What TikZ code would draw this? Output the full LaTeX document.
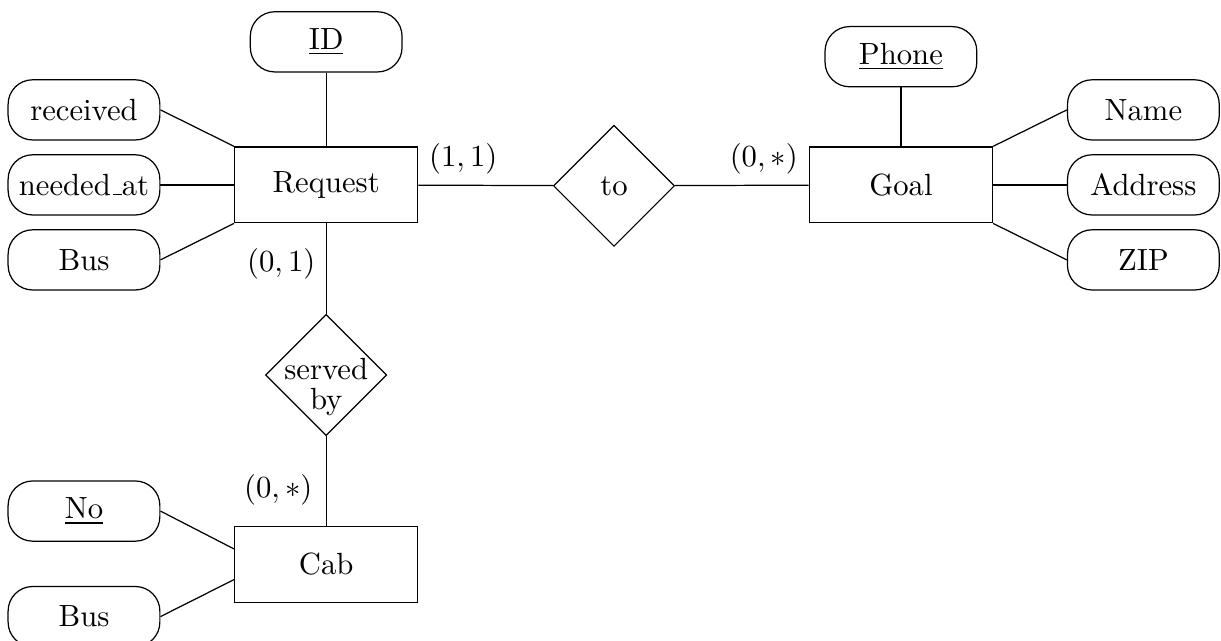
\documentclass[tikz,border=0pt]{standalone}
\usetikzlibrary{shapes.geometric}
\newcommand{\lowbar}{\kern.06em\vbox{\hrule width.3em}}
\begin{document}
\begin{tikzpicture}[entity/.style={draw,minimum width=2.1cm,minimum height=0.87cm},
		attr/.style={draw,rounded corners=8pt,minimum width=1.74cm,minimum height=0.69cm,inner sep=1pt},
		rel/.style={draw,diamond,aspect=1,minimum size=1.39cm,inner sep=0pt}]
				\useasboundingbox (0,0) rectangle (14,-7.34);
				% entities and relationships
				\node[entity] (req) at (3.74,-2.12) {Request};
				\node[entity] (goal) at (10.33,-2.12) {Goal};
				\node[entity] (cab) at (3.74,-6.47) {Cab};
				\node[rel] (to) at (7.04,-2.13) {to};
				\node[rel,inner sep=-5pt] (serv) at (3.74,-4.30) {\raisebox{-4pt}[\height][\depth]{\begin{tabular}{@{}c@{}}served\\[-2pt]by\end{tabular}}};
				% attributes
				\node[attr] (id) at (3.74,-0.48) {\underline{ID}};
				\node[attr] (recv) at (0.963,-1.26) {received};
				\node[attr] (need) at (0.963,-2.12) {needed\lowbar at};
				\node[attr] (rbus) at (0.963,-2.98) {Bus};
				\node[attr] (phone) at (10.33,-0.65) {\underline{Phone}};
				\node[attr] (name) at (13.11,-1.26) {Name};
				\node[attr] (addr) at (13.11,-2.12) {Address};
				\node[attr] (zip) at (13.11,-2.98) {ZIP};
				\node[attr] (no) at (0.963,-5.86) {\underline{No}};
				\node[attr] (cbus) at (0.963,-7.07) {Bus};
				\draw (id) -- (req);
				\draw (recv.east) -- (req.north west);
				\draw (need) -- (req);
				\draw (rbus.east) -- (req.south west);
				\draw (phone) -- (goal);
				\draw (name.west) -- (goal.north east);
				\draw (addr) -- (goal);
				\draw (zip.west) -- (goal.south east);
				\draw (no.east) -- ([yshift=5pt]cab.west);
				\draw (cbus.east) -- ([yshift=-5pt]cab.west);
				% connectors with cardinalities
				\draw (req) -- node[pos=0,above right]{$(1,1)$} (to);
				\draw (to) -- node[pos=1,above left]{$(0,*)$} (goal);
				\draw (req) -- node[pos=0.45,left]{$(0,1)$} (serv);
				\draw (serv) -- node[pos=0.6,left,xshift=-1pt]{$(0,*)$} (cab);
			\end{tikzpicture}
\end{document}
